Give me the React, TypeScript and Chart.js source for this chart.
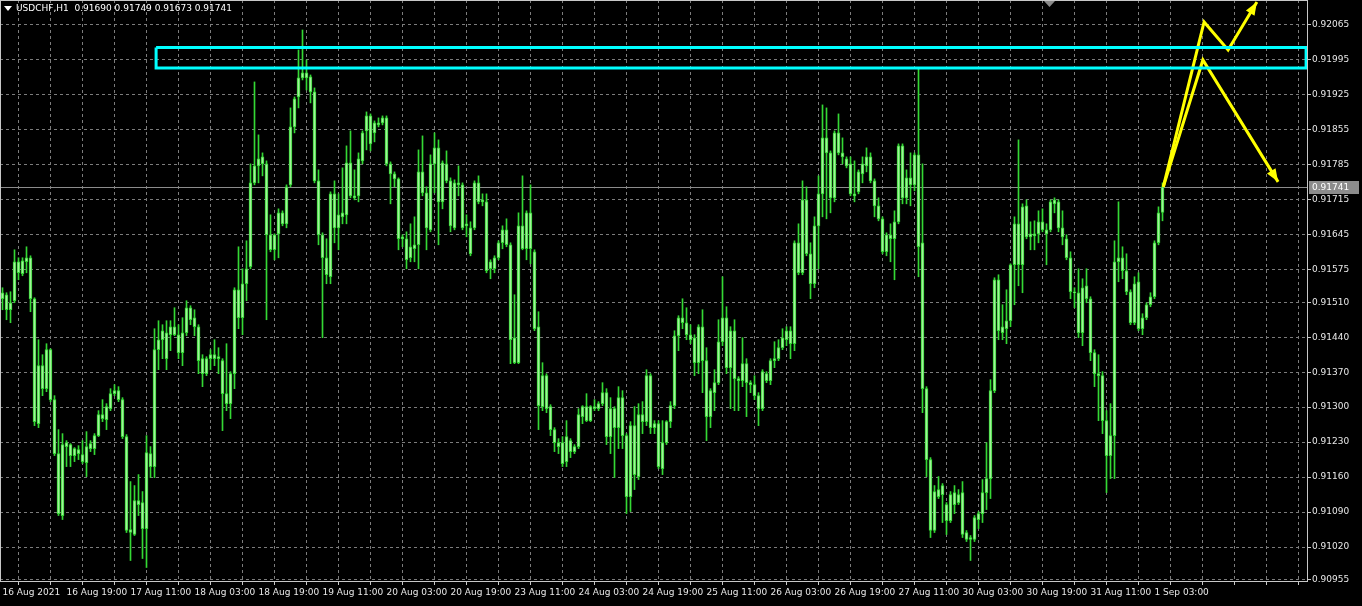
import React, { useEffect, useRef } from "react";
import { Chart, registerables } from "chart.js";

Chart.register(...registerables);

// ---- USDCHF H1 candles (bar 0 = 16 Aug 2021 03:00) ----
const openPrices = [
  0.91517,0.91525,0.91495,0.91513,0.91591,0.91567,0.91591,0.91599,0.91517,0.91267,
  0.91383,0.91337,0.91415,0.91315,0.91207,0.91083,0.91221,0.91225,0.91203,0.91215,
  0.91205,0.91189,0.91217,0.91217,0.91243,0.91285,0.91275,0.91297,0.91327,0.91333,
  0.91315,0.91241,0.91055,0.91045,0.91113,0.91109,0.91057,0.91207,0.91181,0.91415,
  0.91435,0.91449,0.91445,0.91461,0.91445,0.91409,0.91449,0.91499,0.91479,0.91461,
  0.91397,0.91367,0.91397,0.91405,0.91397,0.91393,0.91327,0.91307,0.91367,0.91535,
  0.91479,0.91547,0.91581,0.91749,0.91783,0.91801,0.91787,0.91645,0.91615,0.91647,
  0.91689,0.91667,0.91745,0.91861,0.91921,0.91959,0.91969,0.91961,0.91931,0.91753,
  0.91645,0.91599,0.91561,0.91727,0.91659,0.91681,0.91685,0.91789,0.91723,0.91723,
  0.91793,0.91853,0.91883,0.91849,0.91869,0.91869,0.91879,0.91787,0.91767,0.91757,
  0.91637,0.91637,0.91599,0.91617,0.91625,0.91771,0.91729,0.91655,0.91787,0.91819,
  0.91711,0.91787,0.91753,0.91659,0.91749,0.91745,0.91663,0.91659,0.91659,0.91749,
  0.91711,0.91711,0.91577,0.91599,0.91599,0.91629,0.91655,0.91625,0.91439,0.91389,
  0.91663,0.91617,0.91689,0.91611,0.91461,0.91301,0.91363,0.91301,0.91255,0.91229,
  0.91229,0.91191,0.91233,0.91211,0.91221,0.91281,0.91301,0.91273,0.91301,0.91297,
  0.91307,0.91329,0.91241,0.91297,0.91259,0.91319,0.91243,0.91121,0.91263,0.91161,
  0.91285,0.91271,0.91363,0.91259,0.91267,0.91177,0.91229,0.91271,0.91303,0.91443,
  0.91479,0.91469,0.91445,0.91439,0.91389,0.91461,0.91393,0.91281,0.91329,0.91349,
  0.91431,0.91479,0.91379,0.91453,0.91357,0.91353,0.91387,0.91349,0.91345,0.91323,
  0.91297,0.91367,0.91353,0.91393,0.91397,0.91419,0.91435,0.91453,0.91427,0.91629,
  0.91569,0.91715,0.91607,0.91547,0.91663,0.91727,0.91839,0.91809,0.91719,0.91849,
  0.91809,0.91797,0.91787,0.91727,0.91731,0.91767,0.91783,0.91801,0.91753,0.91703,
  0.91677,0.91611,0.91645,0.91637,0.91671,0.91823,0.91719,0.91759,0.91745,0.91805,
  0.91629,0.91337,0.91195,0.91053,0.91135,0.91125,0.91105,0.91073,0.91129,0.91109,
  0.91129,0.91049,0.91035,0.91035,0.91075,0.91087,0.91129,0.91157,0.91333,0.91555,
  0.91449,0.91457,0.91473,0.91585,0.91667,0.91585,0.91703,0.91641,0.91647,0.91647,
  0.91671,0.91655,0.91655,0.91707,0.91711,0.91659,0.91637,0.91599,0.91531,0.91529,
  0.91449,0.91543,0.91517,0.91409,0.91367,0.91363,0.91273,0.91203,0.91243,0.91591,
  0.91599,0.91573,0.91531,0.91469,0.91551,0.91457,0.91479,0.91505,0.91521,0.91629,
  0.91690,
];

const highPrices = [
  0.91539,0.91529,0.91531,0.91615,0.91599,0.91599,0.91621,0.91603,0.91519,0.91435,
  0.91405,0.91427,0.91417,0.91323,0.91255,0.91247,0.91233,0.91227,0.91219,0.91223,
  0.91233,0.91251,0.91233,0.91247,0.91293,0.91315,0.91307,0.91337,0.91345,0.91341,
  0.91319,0.91245,0.91151,0.91143,0.91165,0.91131,0.91243,0.91221,0.91457,0.91473,
  0.91465,0.91473,0.91473,0.91499,0.91465,0.91479,0.91513,0.91503,0.91495,0.91465,
  0.91405,0.91401,0.91415,0.91435,0.91419,0.91397,0.91427,0.91371,0.91539,0.91621,
  0.91577,0.91633,0.91787,0.91951,0.91845,0.91809,0.91793,0.91685,0.91647,0.91697,
  0.91693,0.91745,0.91899,0.91921,0.92015,0.92055,0.91995,0.91965,0.91939,0.91775,
  0.91649,0.91637,0.91731,0.91753,0.91727,0.91779,0.91823,0.91853,0.91775,0.91809,
  0.91853,0.91891,0.91887,0.91873,0.91879,0.91883,0.91883,0.91791,0.91771,0.91759,
  0.91645,0.91651,0.91667,0.91681,0.91815,0.91843,0.91741,0.91805,0.91849,0.91835,
  0.91793,0.91813,0.91759,0.91755,0.91783,0.91749,0.91685,0.91671,0.91753,0.91763,
  0.91727,0.91727,0.91595,0.91603,0.91633,0.91663,0.91677,0.91629,0.91525,0.91689,
  0.91763,0.91693,0.91745,0.91615,0.91491,0.91389,0.91367,0.91305,0.91259,0.91237,
  0.91241,0.91273,0.91237,0.91225,0.91297,0.91303,0.91327,0.91303,0.91315,0.91311,
  0.91349,0.91337,0.91319,0.91301,0.91341,0.91333,0.91247,0.91271,0.91301,0.91307,
  0.91311,0.91375,0.91367,0.91273,0.91273,0.91273,0.91273,0.91311,0.91453,0.91483,
  0.91517,0.91499,0.91465,0.91445,0.91465,0.91495,0.91419,0.91337,0.91375,0.91475,
  0.91561,0.91501,0.91461,0.91475,0.91361,0.91439,0.91397,0.91353,0.91363,0.91329,
  0.91375,0.91371,0.91397,0.91431,0.91435,0.91457,0.91461,0.91461,0.91633,0.91667,
  0.91753,0.91741,0.91629,0.91681,0.91763,0.91905,0.91899,0.91813,0.91853,0.91887,
  0.91839,0.91801,0.91801,0.91793,0.91775,0.91801,0.91819,0.91809,0.91757,0.91719,
  0.91681,0.91649,0.91667,0.91693,0.91827,0.91827,0.91775,0.91809,0.91809,0.91977,
  0.91787,0.91341,0.91199,0.91143,0.91161,0.91147,0.91109,0.91131,0.91143,0.91135,
  0.91151,0.91053,0.91043,0.91083,0.91091,0.91155,0.91229,0.91355,0.91559,0.91565,
  0.91505,0.91535,0.91587,0.91681,0.91835,0.91707,0.91715,0.91671,0.91673,0.91693,
  0.91697,0.91667,0.91715,0.91719,0.91715,0.91693,0.91645,0.91611,0.91539,0.91577,
  0.91557,0.91577,0.91521,0.91415,0.91405,0.91371,0.91293,0.91307,0.91633,0.91711,
  0.91621,0.91607,0.91535,0.91561,0.91569,0.91487,0.91509,0.91529,0.91633,0.91701,
  0.91749,
];

const lowPrices = [
  0.91495,0.91475,0.91469,0.91509,0.91555,0.91563,0.91569,0.91491,0.91263,0.91259,
  0.91323,0.91331,0.91311,0.91203,0.91083,0.91075,0.91181,0.91181,0.91191,0.91195,
  0.91187,0.91161,0.91211,0.91205,0.91241,0.91271,0.91255,0.91293,0.91323,0.91311,
  0.91237,0.91049,0.90993,0.91043,0.91083,0.90997,0.90979,0.91159,0.91159,0.91375,
  0.91397,0.91375,0.91413,0.91443,0.91397,0.91383,0.91443,0.91465,0.91443,0.91367,
  0.91341,0.91363,0.91375,0.91383,0.91367,0.91253,0.91293,0.91277,0.91337,0.91457,
  0.91445,0.91513,0.91577,0.91745,0.91749,0.91763,0.91475,0.91611,0.91595,0.91599,
  0.91663,0.91659,0.91741,0.91849,0.91899,0.91955,0.91935,0.91909,0.91749,0.91625,
  0.91439,0.91547,0.91547,0.91629,0.91615,0.91667,0.91667,0.91719,0.91715,0.91711,
  0.91787,0.91815,0.91813,0.91831,0.91861,0.91865,0.91783,0.91707,0.91741,0.91615,
  0.91621,0.91577,0.91591,0.91591,0.91577,0.91723,0.91615,0.91651,0.91729,0.91625,
  0.91697,0.91749,0.91651,0.91655,0.91723,0.91655,0.91641,0.91603,0.91655,0.91707,
  0.91703,0.91569,0.91557,0.91569,0.91595,0.91617,0.91621,0.91387,0.91387,0.91387,
  0.91615,0.91595,0.91587,0.91453,0.91255,0.91293,0.91289,0.91243,0.91211,0.91207,
  0.91181,0.91181,0.91199,0.91207,0.91217,0.91267,0.91271,0.91271,0.91293,0.91293,
  0.91303,0.91225,0.91207,0.91159,0.91217,0.91217,0.91087,0.91091,0.91135,0.91155,
  0.91247,0.91263,0.91247,0.91247,0.91177,0.91165,0.91225,0.91259,0.91297,0.91413,
  0.91457,0.91435,0.91427,0.91363,0.91367,0.91329,0.91233,0.91259,0.91293,0.91345,
  0.91423,0.91367,0.91297,0.91293,0.91293,0.91341,0.91281,0.91329,0.91315,0.91263,
  0.91293,0.91349,0.91345,0.91379,0.91393,0.91415,0.91423,0.91397,0.91413,0.91565,
  0.91565,0.91603,0.91517,0.91539,0.91577,0.91681,0.91677,0.91689,0.91711,0.91805,
  0.91787,0.91779,0.91723,0.91711,0.91727,0.91749,0.91771,0.91749,0.91681,0.91673,
  0.91607,0.91603,0.91591,0.91555,0.91667,0.91707,0.91707,0.91703,0.91733,0.91561,
  0.91289,0.91161,0.91039,0.91049,0.91117,0.91069,0.91045,0.91069,0.91087,0.91105,
  0.91039,0.91031,0.90993,0.91031,0.91057,0.91069,0.91095,0.91117,0.91329,0.91435,
  0.91435,0.91427,0.91461,0.91505,0.91543,0.91529,0.91637,0.91615,0.91615,0.91629,
  0.91651,0.91585,0.91651,0.91689,0.91651,0.91625,0.91595,0.91517,0.91499,0.91439,
  0.91423,0.91509,0.91393,0.91341,0.91273,0.91247,0.91129,0.91157,0.91157,0.91551,
  0.91557,0.91525,0.91465,0.91465,0.91453,0.91445,0.91475,0.91501,0.91517,0.91625,
  0.91673,
];

const closePrices = [
  0.91529,0.91495,0.91509,0.91591,0.91569,0.91593,0.91599,0.91517,0.91271,0.91383,
  0.91337,0.91415,0.91315,0.91207,0.91087,0.91225,0.91229,0.91203,0.91217,0.91207,
  0.91191,0.91221,0.91227,0.91243,0.91285,0.91277,0.91301,0.91327,0.91333,0.91315,
  0.91241,0.91053,0.91049,0.91113,0.91105,0.91057,0.91209,0.91181,0.91415,0.91435,
  0.91453,0.91397,0.91461,0.91445,0.91409,0.91449,0.91499,0.91475,0.91461,0.91393,
  0.91367,0.91397,0.91405,0.91397,0.91401,0.91327,0.91307,0.91367,0.91535,0.91479,
  0.91547,0.91577,0.91749,0.91783,0.91797,0.91787,0.91645,0.91615,0.91645,0.91689,
  0.91667,0.91741,0.91861,0.91917,0.91959,0.91969,0.91959,0.91931,0.91753,0.91645,
  0.91599,0.91565,0.91727,0.91659,0.91685,0.91689,0.91789,0.91723,0.91719,0.91797,
  0.91849,0.91883,0.91827,0.91869,0.91865,0.91879,0.91787,0.91767,0.91757,0.91637,
  0.91641,0.91595,0.91621,0.91625,0.91771,0.91729,0.91659,0.91787,0.91819,0.91711,
  0.91789,0.91753,0.91663,0.91749,0.91745,0.91659,0.91667,0.91607,0.91749,0.91711,
  0.91715,0.91573,0.91591,0.91577,0.91629,0.91655,0.91625,0.91435,0.91389,0.91663,
  0.91617,0.91689,0.91617,0.91457,0.91303,0.91363,0.91297,0.91255,0.91229,0.91221,
  0.91187,0.91241,0.91211,0.91221,0.91285,0.91301,0.91273,0.91301,0.91297,0.91307,
  0.91329,0.91241,0.91297,0.91259,0.91319,0.91243,0.91121,0.91263,0.91165,0.91285,
  0.91271,0.91363,0.91259,0.91267,0.91181,0.91229,0.91271,0.91303,0.91443,0.91479,
  0.91469,0.91445,0.91435,0.91389,0.91461,0.91393,0.91281,0.91333,0.91349,0.91431,
  0.91479,0.91379,0.91453,0.91357,0.91353,0.91387,0.91349,0.91345,0.91323,0.91297,
  0.91371,0.91353,0.91393,0.91397,0.91419,0.91439,0.91453,0.91427,0.91629,0.91569,
  0.91715,0.91607,0.91547,0.91663,0.91727,0.91839,0.91809,0.91719,0.91849,0.91809,
  0.91801,0.91783,0.91727,0.91723,0.91771,0.91787,0.91801,0.91753,0.91703,0.91677,
  0.91611,0.91645,0.91637,0.91671,0.91823,0.91719,0.91759,0.91745,0.91805,0.91621,
  0.91337,0.91195,0.91053,0.91131,0.91121,0.91143,0.91073,0.91125,0.91105,0.91125,
  0.91045,0.91035,0.91039,0.91079,0.91087,0.91129,0.91157,0.91333,0.91555,0.91453,
  0.91461,0.91473,0.91585,0.91667,0.91585,0.91701,0.91641,0.91647,0.91643,0.91671,
  0.91655,0.91647,0.91711,0.91715,0.91659,0.91641,0.91599,0.91531,0.91529,0.91449,
  0.91539,0.91517,0.91409,0.91367,0.91363,0.91273,0.91203,0.91243,0.91591,0.91599,
  0.91573,0.91531,0.91469,0.91547,0.91457,0.91479,0.91505,0.91521,0.91629,0.91689,
  0.91741,
];

// ---- axis ticks ----
const timeLabels = [
  "16 Aug 2021", "16 Aug 19:00", "17 Aug 11:00", "18 Aug 03:00", "18 Aug 19:00",
  "19 Aug 11:00", "20 Aug 03:00", "20 Aug 19:00", "23 Aug 11:00", "24 Aug 03:00",
  "24 Aug 19:00", "25 Aug 11:00", "26 Aug 03:00", "26 Aug 19:00", "27 Aug 11:00",
  "30 Aug 03:00", "30 Aug 19:00", "31 Aug 11:00", "1 Sep 03:00",
];
const barsPerLabel = 16;
const barsPerGrid = 8;
const priceTicks = [
  0.92065, 0.91995, 0.91925, 0.91855, 0.91785, 0.91715, 0.91645, 0.91575, 0.9151,
  0.9144, 0.9137, 0.913, 0.9123, 0.9116, 0.9109, 0.9102, 0.90955,
];

// ---- drawn objects (bar index, price) ----
const zoneBars = [38.4, 325.9];
const zonePrices = [0.9202, 0.91979];
const arrowUpBars = [290.2, 300.4, 306.4, 313.6];
const arrowUpPrices = [0.91741, 0.92071, 0.92015, 0.92111];
const arrowDownBars = [290.2, 300.1, 318.9];
const arrowDownPrices = [0.91741, 0.91995, 0.91751];

const symbolTitle = "USDCHF,H1";

const FONT = "DejaVu Sans";
const GREEN = "#34d834";
const BODY_FILL = "#a2f29a";
const GRID = "#7c7c7c";

function drawHead(ctx: CanvasRenderingContext2D, x1: number, y1: number, x2: number, y2: number) {
  const a = Math.atan2(y2 - y1, x2 - x1);
  const len = 13;
  const half = 5;
  const bx = x2 - len * Math.cos(a);
  const by = y2 - len * Math.sin(a);
  ctx.beginPath();
  ctx.moveTo(x2, y2);
  ctx.lineTo(bx + half * Math.sin(a), by - half * Math.cos(a));
  ctx.lineTo(bx - half * Math.sin(a), by + half * Math.cos(a));
  ctx.closePath();
  ctx.fill();
}

export default function App() {
  const ref = useRef<HTMLCanvasElement>(null);

  useEffect(() => {
    document.body.style.margin = "0";
    document.body.style.background = "#000";
    const idx = closePrices.map((_, i) => i);
    const wicks = idx.map((i) => ({ x: i, y: [lowPrices[i], highPrices[i]] }));
    const bodies = idx.map((i) => ({ x: i, y: [openPrices[i], closePrices[i]] }));
    const zonePath = [
      { x: zoneBars[0], y: zonePrices[0] },
      { x: zoneBars[1], y: zonePrices[0] },
      { x: zoneBars[1], y: zonePrices[1] },
      { x: zoneBars[0], y: zonePrices[1] },
      { x: zoneBars[0], y: zonePrices[0] },
    ];
    const upPath = arrowUpBars.map((b, i) => ({ x: b, y: arrowUpPrices[i] }));
    const downPath = arrowDownBars.map((b, i) => ({ x: b, y: arrowDownPrices[i] }));
    const gridTicks: number[] = [];
    for (let v = 0; v <= 326; v += barsPerGrid) gridTicks.push(v);
    const last = closePrices.length - 1;

    const chrome = {
      id: "mtChrome",
      beforeDraw(chart: any) {
        const c = chart.ctx;
        c.save();
        c.fillStyle = "#000";
        c.fillRect(0, 0, chart.width, chart.height);
        c.restore();
      },
      beforeDatasetsDraw(chart: any) {
        const c = chart.ctx;
        const a = chart.chartArea;
        const y = Math.round(chart.scales.y.getPixelForValue(closePrices[last])) + 0.5;
        c.save();
        c.strokeStyle = "#8c8c8c";
        c.lineWidth = 1;
        c.beginPath();
        c.moveTo(a.left, y);
        c.lineTo(a.right, y);
        c.stroke();
        c.restore();
      },
      afterDatasetsDraw(chart: any) {
        const c = chart.ctx;
        const a = chart.chartArea;
        c.save();
        c.beginPath();
        c.rect(a.left, a.top, a.right - a.left, a.bottom - a.top);
        c.clip();
        c.fillStyle = "#ffff00";
        chart.data.datasets.forEach((ds: any, di: number) => {
          if (!ds.arrow) return;
          const pts = chart.getDatasetMeta(di).data;
          const p1 = pts[pts.length - 2];
          const p2 = pts[pts.length - 1];
          drawHead(c, p1.x, p1.y, p2.x, p2.y);
        });
        c.restore();
        // frame
        c.save();
        c.strokeStyle = "#c8c8c8";
        c.lineWidth = 1;
        c.strokeRect(a.left + 0.5, a.top + 0.5, a.right - a.left - 1, a.bottom - a.top - 1);
        c.restore();
      },
      afterDraw(chart: any) {
        const c = chart.ctx;
        const a = chart.chartArea;
        c.save();
        // header
        c.fillStyle = "#ffffff";
        c.font = `9px "${FONT}"`;
        c.textBaseline = "middle";
        c.textAlign = "left";
        const hdr = `${symbolTitle}  ${openPrices[last].toFixed(5)} ${highPrices[last].toFixed(5)} ${lowPrices[last].toFixed(5)} ${closePrices[last].toFixed(5)}`;
        c.beginPath();
        c.moveTo(4, 6);
        c.lineTo(12, 6);
        c.lineTo(8, 11);
        c.closePath();
        c.fill();
        c.fillText(hdr, 16, 9);
        // chart shift marker
        c.fillStyle = "#8a8a8a";
        c.beginPath();
        c.moveTo(a.left + 1044, a.top + 1);
        c.lineTo(a.left + 1055, a.top + 1);
        c.lineTo(a.left + 1049.5, a.top + 7);
        c.closePath();
        c.fill();
        // last price label
        const y = Math.round(chart.scales.y.getPixelForValue(closePrices[last]));
        c.fillStyle = "#8c8c8c";
        c.fillRect(a.right + 1, y - 6, 50, 13);
        c.fillStyle = "#ffffff";
        c.fillText(closePrices[last].toFixed(5), a.right + 4, y + 0.5);
        c.restore();
      },
    };

    const chart = new Chart(ref.current as HTMLCanvasElement, {
      type: "bar",
      data: {
        datasets: [
          {
            type: "line",
            data: zonePath,
            borderColor: "#00ffff",
            borderWidth: 3,
            pointRadius: 0,
            tension: 0,
            fill: false,
            order: 0,
          } as any,
          {
            type: "line",
            data: upPath,
            borderColor: "#ffff00",
            borderWidth: 3,
            pointRadius: 0,
            tension: 0,
            fill: false,
            order: 0,
            arrow: true,
          } as any,
          {
            type: "line",
            data: downPath,
            borderColor: "#ffff00",
            borderWidth: 3,
            pointRadius: 0,
            tension: 0,
            fill: false,
            order: 0,
            arrow: true,
          } as any,
          {
            type: "bar",
            data: bodies,
            backgroundColor: BODY_FILL,
            borderColor: GREEN,
            borderWidth: 1,
            borderSkipped: false,
            barThickness: 3,
            minBarLength: 1,
            grouped: false,
            order: 1,
          } as any,
          {
            type: "bar",
            data: wicks,
            backgroundColor: GREEN,
            borderWidth: 0,
            barThickness: 1,
            minBarLength: 1,
            grouped: false,
            order: 2,
          } as any,
        ],
      },
      options: {
        responsive: false,
        animation: false,
        devicePixelRatio: 1,
        layout: { padding: 0 },
        plugins: { legend: { display: false }, tooltip: { enabled: false } },
        events: [],
        scales: {
          x: {
            type: "linear",
            min: -0.625,
            max: 326.375,
            offset: false,
            afterBuildTicks: (s: any) => {
              s.ticks = gridTicks.map((v) => ({ value: v }));
            },
            afterFit: (s: any) => {
              s.height = 24;
              s.paddingLeft = 0;
              s.paddingRight = 0;
            },
            grid: {
              color: (ctx: any) => (ctx.tick && ctx.tick.value === 0 ? "rgba(0,0,0,0)" : GRID),
              lineWidth: 1,
              drawTicks: true,
              tickLength: 3,
              tickColor: "#c8c8c8",
            },
            border: { display: false, dash: [3, 3] },
            ticks: {
              autoSkip: false,
              maxRotation: 0,
              minRotation: 0,
              align: "start",
              padding: 2,
              color: "#e8e8e8",
              font: { family: FONT, size: 9 },
              callback: (v: any) => {
                const n = Number(v);
                return n % barsPerLabel === 0 ? timeLabels[n / barsPerLabel] ?? "" : "";
              },
            },
          },
          y: {
            type: "linear",
            position: "right",
            min: 0.9095,
            max: 0.92115,
            afterBuildTicks: (s: any) => {
              s.ticks = priceTicks.map((v) => ({ value: v }));
            },
            afterFit: (s: any) => {
              s.width = 54;
              s.paddingTop = 0;
              s.paddingBottom = 0;
            },
            grid: {
              color: GRID,
              lineWidth: 1,
              drawTicks: true,
              tickLength: 3,
              tickColor: "#c8c8c8",
            },
            border: { display: false, dash: [3, 3] },
            ticks: {
              padding: 1,
              color: "#e8e8e8",
              font: { family: FONT, size: 9 },
              callback: (v: any) => Number(v).toFixed(5),
            },
          },
        },
      } as any,
      plugins: [chrome],
    });

    return () => chart.destroy();
  }, []);

  return <canvas ref={ref} width={1362} height={606} style={{ display: "block" }} />;
}
